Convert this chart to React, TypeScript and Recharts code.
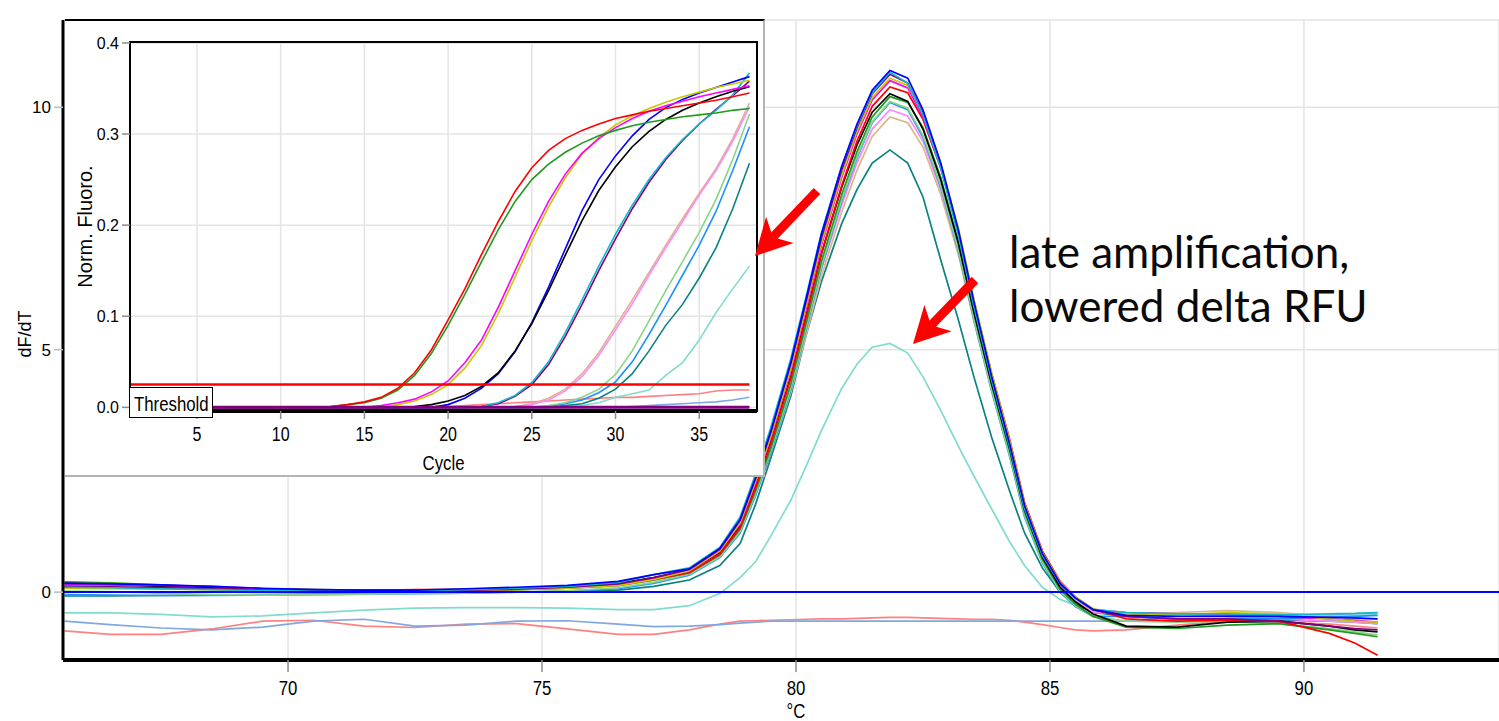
import React from 'react';
import { LineChart, Line, XAxis, YAxis, CartesianGrid, ReferenceLine, ReferenceArea } from 'recharts';

// ---------- Melt curve (main chart) ----------
const TEMPS = [65.6, 66.5, 67.5, 68.5, 69.5, 70.5, 71.5, 72.5, 73.5, 74.5, 75.5, 76.5, 77.2,
  77.9, 78.5, 78.9, 79.2, 79.5, 79.9, 80.2, 80.5, 80.9, 81.2, 81.5, 81.85, 82.2, 82.5, 82.85, 83.2,
  83.5, 83.85, 84.2, 84.5, 84.85, 85.2, 85.5, 85.85,
  86.5, 87.5, 88.5, 89.5, 90.5, 91.0, 91.45];

const MELT_CYAN = [0.1, 0.09, 0.07, 0.05, 0.03, 0.02, 0.02, 0.03, 0.05, 0.08, 0.12, 0.2, 0.36,
  0.5, 0.92, 1.55, 2.42, 3.38, 4.82, 6.1, 7.4, 8.78, 9.62, 10.3, 10.72, 10.5, 9.85, 8.75, 7.35, 5.9, 4.38, 3.02, 1.72, 0.76, 0.17, -0.13, -0.36,
  -0.42, -0.45, -0.45, -0.47, -0.45, -0.44, -0.42];
const MELT_BLUE = [0.18, 0.17, 0.15, 0.12, 0.08, 0.05, 0.04, 0.04, 0.07, 0.1, 0.14, 0.22, 0.36,
  0.48, 0.9, 1.5, 2.35, 3.3, 4.75, 6.05, 7.38, 8.78, 9.65, 10.35, 10.76, 10.6, 9.95, 8.85, 7.45, 6.0, 4.45, 3.08, 1.78, 0.8, 0.18, -0.12, -0.36,
  -0.48, -0.5, -0.5, -0.5, -0.52, -0.53, -0.55];
const MELT_PURPLE = [0.12, 0.11, 0.09, 0.07, 0.04, 0.02, 0.02, 0.02, 0.04, 0.06, 0.1, 0.17, 0.3,
  0.47, 0.88, 1.48, 2.33, 3.28, 4.72, 6.0, 7.3, 8.7, 9.58, 10.28, 10.68, 10.5, 9.88, 8.8, 7.42, 5.95, 4.42, 3.05, 1.75, 0.78, 0.16, -0.13, -0.37,
  -0.5, -0.55, -0.55, -0.6, -0.7, -0.75, -0.78];
const MELT_OLIVE = [0.08, 0.07, 0.06, 0.05, 0.03, 0.02, 0.01, 0.02, 0.03, 0.05, 0.08, 0.14, 0.26,
  0.44, 0.85, 1.43, 2.27, 3.2, 4.62, 5.9, 7.2, 8.6, 9.5, 10.2, 10.6, 10.45, 9.88, 8.85, 7.5, 6.05, 4.52, 3.15, 1.82, 0.82, 0.2, -0.1, -0.35,
  -0.45, -0.47, -0.42, -0.45, -0.55, -0.6, -0.62];
const MELT_MAGENTA = [0.16, 0.15, 0.14, 0.12, 0.07, 0.04, 0.04, 0.03, 0.04, 0.06, 0.1, 0.16, 0.28,
  0.44, 0.84, 1.41, 2.24, 3.17, 4.58, 5.85, 7.15, 8.55, 9.45, 10.15, 10.55, 10.4, 9.8, 8.75, 7.4, 5.97, 4.45, 3.1, 1.8, 0.8, 0.18, -0.12, -0.36,
  -0.42, -0.45, -0.47, -0.5, -0.55, -0.58, -0.62];
const MELT_RED = [0.1, 0.09, 0.08, 0.06, 0.04, 0.03, 0.03, 0.05, 0.05, 0.06, 0.09, 0.15, 0.26,
  0.4, 0.78, 1.33, 2.14, 3.05, 4.42, 5.68, 6.98, 8.38, 9.3, 10.02, 10.42, 10.3, 9.75, 8.75, 7.45, 6.02, 4.52, 3.18, 1.85, 0.85, 0.22, -0.1, -0.35,
  -0.55, -0.6, -0.58, -0.6, -0.85, -1.05, -1.3];
const MELT_BLACK = [0.18, 0.16, 0.12, 0.1, 0.07, 0.05, 0.04, 0.04, 0.05, 0.07, 0.11, 0.18, 0.3,
  0.44, 0.82, 1.37, 2.18, 3.08, 4.45, 5.7, 6.98, 8.35, 9.22, 9.9, 10.28, 10.12, 9.55, 8.5, 7.18, 5.78, 4.3, 2.98, 1.7, 0.72, 0.1, -0.2, -0.45,
  -0.7, -0.72, -0.62, -0.6, -0.7, -0.78, -0.82];
const MELT_GREEN = [0.21, 0.19, 0.15, 0.1, 0.05, 0.03, 0.02, 0.02, 0.03, 0.05, 0.08, 0.14, 0.25,
  0.4, 0.77, 1.3, 2.08, 2.96, 4.3, 5.55, 6.82, 8.2, 9.08, 9.8, 10.22, 10.1, 9.58, 8.55, 7.22, 5.8, 4.3, 2.95, 1.66, 0.68, 0.06, -0.25, -0.5,
  -0.72, -0.75, -0.68, -0.65, -0.78, -0.85, -0.92];
const MELT_LIGHTGREEN = [0.02, 0.01, -0.02, -0.05, -0.06, -0.05, -0.04, -0.03, -0.02, 0.0, 0.03, 0.09, 0.2,
  0.37, 0.73, 1.25, 2.02, 2.9, 4.22, 5.46, 6.72, 8.1, 8.98, 9.7, 10.12, 9.98, 9.42, 8.38, 7.05, 5.65, 4.18, 2.85, 1.58, 0.62, 0.02, -0.28, -0.5,
  -0.6, -0.62, -0.6, -0.65, -0.75, -0.82, -0.88];
const MELT_DODGER = [-0.05, -0.06, -0.07, -0.07, -0.06, -0.05, -0.04, -0.03, -0.02, 0.0, 0.02, 0.07, 0.18,
  0.35, 0.71, 1.22, 1.98, 2.86, 4.18, 5.42, 6.68, 8.06, 8.95, 9.68, 10.1, 9.95, 9.38, 8.35, 7.02, 5.62, 4.15, 2.82, 1.55, 0.6, 0.0, -0.3, -0.5,
  -0.5, -0.55, -0.55, -0.55, -0.52, -0.5, -0.48];
const MELT_PINK = [0.12, 0.11, 0.1, 0.08, 0.05, 0.03, 0.02, 0.02, 0.03, 0.05, 0.08, 0.14, 0.25,
  0.4, 0.76, 1.28, 2.05, 2.92, 4.22, 5.42, 6.66, 7.98, 8.85, 9.55, 9.95, 9.82, 9.3, 8.3, 7.02, 5.65, 4.2, 2.9, 1.65, 0.7, 0.1, -0.2, -0.42,
  -0.45, -0.45, -0.5, -0.55, -0.6, -0.62, -0.65];
const MELT_TAN = [0.13, 0.12, 0.1, 0.07, 0.05, 0.04, 0.03, 0.03, 0.04, 0.05, 0.08, 0.13, 0.24,
  0.39, 0.74, 1.24, 2.0, 2.85, 4.12, 5.3, 6.52, 7.84, 8.7, 9.4, 9.8, 9.68, 9.18, 8.2, 6.95, 5.6, 4.18, 2.9, 1.66, 0.72, 0.12, -0.18, -0.4,
  -0.45, -0.42, -0.38, -0.42, -0.5, -0.55, -0.55];
const MELT_DARKTEAL = [-0.08, -0.08, -0.07, -0.06, -0.05, -0.04, -0.03, -0.02, -0.01, 0.0, 0.01, 0.04, 0.12,
  0.25, 0.55, 1.0, 1.8, 2.75, 4.05, 5.3, 6.4, 7.6, 8.3, 8.85, 9.12, 8.85, 8.15, 6.85, 5.6, 4.45, 3.2, 2.1, 1.22, 0.5, 0.0, -0.25, -0.42,
  -0.5, -0.55, -0.55, -0.58, -0.6, -0.62, -0.65];
const MELT_AQUA = [-0.43, -0.43, -0.46, -0.51, -0.49, -0.43, -0.37, -0.33, -0.32, -0.32, -0.33, -0.36, -0.36,
  -0.28, -0.03, 0.3, 0.62, 1.15, 1.9, 2.6, 3.33, 4.2, 4.7, 5.05, 5.13, 4.93, 4.44, 3.75, 3.0, 2.4, 1.72, 1.05, 0.55, 0.1, -0.15, -0.27, -0.35,
  -0.42, -0.45, -0.5, -0.52, -0.5, -0.48, -0.46];
const MELT_SALMON = [-0.8, -0.87, -0.87, -0.76, -0.6, -0.58, -0.7, -0.73, -0.66, -0.65, -0.76, -0.87, -0.87,
  -0.78, -0.66, -0.6, -0.59, -0.58, -0.57, -0.56, -0.55, -0.55, -0.54, -0.53, -0.52, -0.52, -0.53, -0.54, -0.55, -0.56, -0.56, -0.58, -0.62, -0.67, -0.73, -0.78, -0.8,
  -0.78, -0.68, -0.6, -0.62, -0.66, -0.7, -0.74];
const MELT_CORNFLOWER = [-0.6, -0.67, -0.74, -0.78, -0.72, -0.6, -0.56, -0.7, -0.68, -0.6, -0.59, -0.66, -0.71,
  -0.7, -0.67, -0.64, -0.62, -0.6, -0.6, -0.6, -0.6, -0.6, -0.6, -0.6, -0.6, -0.6, -0.6, -0.6, -0.6, -0.6, -0.6, -0.6, -0.6, -0.6, -0.6, -0.6, -0.6,
  -0.6, -0.58, -0.55, -0.52, -0.48, -0.45, -0.43];

const MELT_SERIES = [
  { key: 'salmon', color: '#ff8080', values: MELT_SALMON },
  { key: 'cornflower', color: '#80a8e0', values: MELT_CORNFLOWER },
  { key: 'aqua', color: '#80dccc', values: MELT_AQUA },
  { key: 'darkteal', color: '#0a8282', values: MELT_DARKTEAL },
  { key: 'tan', color: '#d8b888', values: MELT_TAN },
  { key: 'pink', color: '#ff88ff', values: MELT_PINK },
  { key: 'dodger', color: '#1e90ff', values: MELT_DODGER },
  { key: 'lightgreen', color: '#88d488', values: MELT_LIGHTGREEN },
  { key: 'green', color: '#1f9a1f', values: MELT_GREEN },
  { key: 'black', color: '#000000', values: MELT_BLACK },
  { key: 'red', color: '#ff0000', values: MELT_RED },
  { key: 'magenta', color: '#ff00ff', values: MELT_MAGENTA },
  { key: 'olive', color: '#c8c800', values: MELT_OLIVE },
  { key: 'purple', color: '#800080', values: MELT_PURPLE },
  { key: 'cyan', color: '#12b8c8', values: MELT_CYAN },
  { key: 'blue', color: '#0000ff', values: MELT_BLUE },
];

const MELT_X_TICKS = [70, 75, 80, 85, 90];
const MELT_Y_TICKS = [0, 5, 10];

// ---------- Amplification (inset) ----------
const CYCLES = [1, 2, 3, 4, 5, 6, 7, 8, 9, 10, 11, 12, 13, 14, 15, 16, 17, 18, 19, 20,
  21, 22, 23, 24, 25, 26, 27, 28, 29, 30, 31, 32, 33, 34, 35, 36, 37, 38];

const AMP_RED = [0, 0, 0, 0, 0, 0, 0, 0, 0, 0, 0, 0,
  0.001, 0.003, 0.006, 0.011, 0.021, 0.038, 0.063, 0.096, 0.13, 0.168, 0.204, 0.237, 0.263, 0.282, 0.295, 0.304, 0.311, 0.317, 0.321, 0.325, 0.328, 0.331, 0.334, 0.337, 0.341, 0.345];
const AMP_GREEN = [0, 0, 0, 0, 0, 0, 0, 0, 0, 0, 0, 0,
  0.001, 0.003, 0.005, 0.01, 0.019, 0.035, 0.059, 0.09, 0.124, 0.16, 0.195, 0.226, 0.25, 0.267, 0.28, 0.29, 0.298, 0.304, 0.309, 0.313, 0.316, 0.319, 0.321, 0.323, 0.326, 0.328];
const AMP_MAGENTA = [0, 0, 0, 0, 0, 0, 0, 0, 0, 0, 0, 0, 0, 0, 0,
  0.002, 0.005, 0.009, 0.017, 0.029, 0.049, 0.074, 0.11, 0.15, 0.19, 0.226, 0.256, 0.279, 0.295, 0.307, 0.317, 0.325, 0.331, 0.336, 0.341, 0.345, 0.349, 0.353];
const AMP_OLIVE = [0, 0, 0, 0, 0, 0, 0, 0, 0, 0, 0, 0, 0, 0, 0, 0,
  0.003, 0.007, 0.014, 0.025, 0.043, 0.068, 0.103, 0.143, 0.183, 0.22, 0.252, 0.278, 0.296, 0.31, 0.32, 0.328, 0.335, 0.341, 0.346, 0.351, 0.355, 0.359];
const AMP_BLACK = [0, 0, 0, 0, 0, 0, 0, 0, 0, 0, 0, 0, 0, 0, 0, 0, 0,
  0.001, 0.003, 0.007, 0.013, 0.023, 0.038, 0.062, 0.092, 0.128, 0.167, 0.205, 0.238, 0.264, 0.286, 0.303, 0.316, 0.326, 0.334, 0.341, 0.347, 0.352];
const AMP_BLUE = [0, 0, 0, 0, 0, 0, 0, 0, 0, 0, 0, 0, 0, 0, 0, 0, 0, 0, 0,
  0.003, 0.01, 0.021, 0.037, 0.061, 0.093, 0.132, 0.174, 0.216, 0.25, 0.276, 0.298, 0.316, 0.329, 0.338, 0.345, 0.351, 0.357, 0.363];
const AMP_CYAN = [0, 0, 0, 0, 0, 0, 0, 0, 0, 0, 0, 0, 0, 0, 0, 0, 0, 0, 0, 0, 0,
  0.001, 0.005, 0.013, 0.027, 0.05, 0.082, 0.118, 0.155, 0.19, 0.222, 0.25, 0.274, 0.294, 0.311, 0.326, 0.343, 0.367];
const AMP_PURPLE = [0, 0, 0, 0, 0, 0, 0, 0, 0, 0, 0, 0, 0, 0, 0, 0, 0, 0, 0, 0, 0,
  0.001, 0.004, 0.012, 0.025, 0.047, 0.078, 0.113, 0.15, 0.185, 0.218, 0.247, 0.272, 0.293, 0.311, 0.327, 0.342, 0.358];
const AMP_TAN = [0, 0, 0, 0, 0, 0, 0, 0, 0, 0, 0, 0, 0, 0, 0, 0, 0, 0, 0, 0, 0, 0, 0,
  0.001, 0.004, 0.01, 0.02, 0.037, 0.06, 0.089, 0.118, 0.148, 0.178, 0.207, 0.235, 0.262, 0.295, 0.334];
const AMP_PINK = [0, 0, 0, 0, 0, 0, 0, 0, 0, 0, 0, 0, 0, 0, 0, 0, 0, 0, 0, 0, 0, 0, 0,
  0.001, 0.003, 0.008, 0.018, 0.034, 0.057, 0.085, 0.114, 0.145, 0.175, 0.204, 0.233, 0.26, 0.292, 0.33];
const AMP_LIGHTGREEN = [0, 0, 0, 0, 0, 0, 0, 0, 0, 0, 0, 0, 0, 0, 0, 0, 0, 0, 0, 0, 0, 0, 0, 0, 0,
  0.002, 0.005, 0.011, 0.02, 0.036, 0.062, 0.095, 0.128, 0.16, 0.192, 0.228, 0.272, 0.322];
const AMP_DODGER = [0, 0, 0, 0, 0, 0, 0, 0, 0, 0, 0, 0, 0, 0, 0, 0, 0, 0, 0, 0, 0, 0, 0, 0, 0,
  0.001, 0.004, 0.008, 0.016, 0.028, 0.05, 0.08, 0.112, 0.145, 0.178, 0.215, 0.26, 0.308];
const AMP_DARKTEAL = [0, 0, 0, 0, 0, 0, 0, 0, 0, 0, 0, 0, 0, 0, 0, 0, 0, 0, 0, 0, 0, 0, 0, 0, 0, 0,
  0.002, 0.004, 0.01, 0.02, 0.037, 0.062, 0.09, 0.113, 0.142, 0.175, 0.218, 0.268];
const AMP_AQUA = [0, 0, 0, 0, 0, 0, 0, 0, 0, 0, 0, 0, 0, 0, 0, 0, 0, 0, 0, 0, 0, 0, 0, 0, 0, 0,
  0.001, 0.002, 0.005, 0.011, 0.015, 0.019, 0.035, 0.049, 0.074, 0.104, 0.13, 0.155];
const AMP_SALMON = [0, 0, 0, 0, 0, 0, 0, 0, 0, 0, 0, 0, 0, 0, 0, 0, 0, 0, 0,
  0.001, 0.002, 0.003, 0.004, 0.005, 0.006, 0.007, 0.008, 0.009, 0.01, 0.011, 0.011, 0.012, 0.013, 0.014, 0.015, 0.018, 0.019, 0.019];
const AMP_CORNFLOWER = [0, 0, 0, 0, 0, 0, 0, 0, 0, 0, 0, 0, 0, 0, 0, 0, 0, 0, 0, 0, 0, 0, 0, 0, 0, 0, 0, 0, 0, 0,
  0.001, 0.002, 0.003, 0.004, 0.005, 0.006, 0.008, 0.011];
const AMP_NTC_PURPLE = [0, 0, 0, 0, 0, 0, 0, 0, 0, 0, 0, 0, 0, 0, 0, 0, 0, 0, 0, 0,
  0, 0, 0, 0, 0, 0, 0, 0, 0, 0, 0, 0, 0, 0, 0, 0, 0, 0];

const AMP_SERIES = [
  { key: 'salmon', color: '#ff8080', values: AMP_SALMON, w: 1.6 },
  { key: 'cornflower', color: '#80a8e0', values: AMP_CORNFLOWER, w: 1.6 },
  { key: 'aqua', color: '#80dccc', values: AMP_AQUA, w: 1.6 },
  { key: 'darkteal', color: '#0a8282', values: AMP_DARKTEAL, w: 1.6 },
  { key: 'dodger', color: '#1e90ff', values: AMP_DODGER, w: 1.6 },
  { key: 'lightgreen', color: '#88d488', values: AMP_LIGHTGREEN, w: 1.6 },
  { key: 'tan', color: '#d8b888', values: AMP_TAN, w: 1.6 },
  { key: 'pink', color: '#ff88ff', values: AMP_PINK, w: 1.6 },
  { key: 'purple', color: '#800080', values: AMP_PURPLE, w: 1.6 },
  { key: 'cyan', color: '#12b8c8', values: AMP_CYAN, w: 1.6 },
  { key: 'blue', color: '#0000ff', values: AMP_BLUE, w: 1.6 },
  { key: 'black', color: '#000000', values: AMP_BLACK, w: 1.6 },
  { key: 'olive', color: '#c8c800', values: AMP_OLIVE, w: 1.6 },
  { key: 'magenta', color: '#ff00ff', values: AMP_MAGENTA, w: 1.6 },
  { key: 'green', color: '#1f9a1f', values: AMP_GREEN, w: 1.6 },
  { key: 'red', color: '#ff0000', values: AMP_RED, w: 1.6 },
  { key: 'ntc', color: '#800080', values: AMP_NTC_PURPLE, w: 3 },
];

const AMP_X_TICKS = [5, 10, 15, 20, 25, 30, 35];
const AMP_Y_TICKS = [0, 0.1, 0.2, 0.3, 0.4];
const THRESHOLD = 0.025;

const meltData = TEMPS.map((t, i) => {
  const row: Record<string, number> = { t };
  MELT_SERIES.forEach((s) => { row[s.key] = s.values[i]; });
  return row;
});
const ampData = CYCLES.map((c, i) => {
  const row: Record<string, number> = { c };
  AMP_SERIES.forEach((s) => { row[s.key] = s.values[i]; });
  return row;
});

const SANS = "'Liberation Sans', Arial, sans-serif";
const SQUEEZE = 0.8;

// condensed text (Arial-Narrow look) made by squeezing Liberation Sans horizontally
const NarrowText = ({ x, y, size, anchor = 'middle', children }: any) => (
  <g transform={`translate(${x},${y}) scale(${SQUEEZE},1)`}>
    <text x={0} y={0} textAnchor={anchor} fontFamily={SANS} fontSize={size} fill="#000">{children}</text>
  </g>
);

const MainXTick = (props: any) => {
  const { x, y, payload } = props;
  return <NarrowText x={x} y={y + 15} size={21}>{payload.value}</NarrowText>;
};
const AmpXTick = (props: any) => {
  const { x, y, payload } = props;
  return <NarrowText x={x} y={y + 14} size={20}>{payload.value}</NarrowText>;
};

const MainXLabel = (props: any) => {
  const vb = props.viewBox || { x: 0, y: 0, width: 0, height: 0 };
  return <NarrowText x={vb.x + vb.width / 2 + 15} y={vb.y + 58} size={21}>°C</NarrowText>;
};
const MainYLabel = (props: any) => {
  const vb = props.viewBox || { x: 0, y: 0, width: 0, height: 0 };
  const x = vb.x + 25;
  const y = vb.y + vb.height / 2 - 6;
  return (
    <text x={x} y={y} transform={`rotate(-90, ${x}, ${y})`} textAnchor="middle" dominantBaseline="central" fontFamily={SANS} fontSize={18} fill="#000">dF/dT</text>
  );
};
const CycleLabel = (props: any) => {
  const vb = props.viewBox || { x: 0, y: 0, width: 0, height: 0 };
  return <NarrowText x={vb.x + vb.width / 2} y={vb.y + 59} size={21}>Cycle</NarrowText>;
};
const NormLabel = (props: any) => {
  const vb = props.viewBox || { x: 0, y: 0, width: 0, height: 0 };
  const x = vb.x + 20;
  const y = vb.y + vb.height / 2;
  return (
    <text x={x} y={y} transform={`rotate(-90, ${x}, ${y})`} textAnchor="middle" dominantBaseline="central" fontFamily={SANS} fontSize={20} fill="#000">Norm. Fluoro.</text>
  );
};

const Arrow = ({ tail, tip }: { tail: [number, number]; tip: [number, number] }) => {
  const dx = tip[0] - tail[0];
  const dy = tip[1] - tail[1];
  const len = Math.hypot(dx, dy);
  const ux = dx / len;
  const uy = dy / len;
  const bx = -ux;
  const by = -uy;
  const px = -uy;
  const py = ux;
  const back = 36;
  const half = 19;
  const a = [tip[0] + bx * back + px * half, tip[1] + by * back + py * half];
  const b = [tip[0] + bx * back - px * half, tip[1] + by * back - py * half];
  const n = [tip[0] + bx * 26, tip[1] + by * 26];
  return (
    <g>
      <line x1={tail[0]} y1={tail[1]} x2={n[0]} y2={n[1]} stroke="#ff0000" strokeWidth={9} />
      <polygon points={`${tip[0]},${tip[1]} ${a[0]},${a[1]} ${n[0]},${n[1]} ${b[0]},${b[1]}`} fill="#ff0000" />
    </g>
  );
};

export default function App() {
  return (
    <div style={{ position: 'absolute', left: 0, top: 0, width: 1499, height: 721, background: '#fff', overflow: 'hidden' }}>
      <div style={{ position: 'absolute', left: 0, top: 0 }}>
        <LineChart width={1499} height={721} data={meltData} margin={{ top: 20, right: 0, bottom: 0, left: 0 }}>
          <CartesianGrid stroke="#e4e4e4" strokeWidth={1.5} />
          <XAxis type="number" dataKey="t" domain={[65.57, 93.84]} allowDataOverflow ticks={MELT_X_TICKS}
            height={61} axisLine={{ stroke: '#000', strokeWidth: 4 }} tickLine={{ stroke: '#8c8c8c', strokeWidth: 1.5 }}
            tickSize={12} tickMargin={8} tick={<MainXTick />} label={<MainXLabel />} />
          <YAxis type="number" domain={[-1.4, 11.8]} allowDataOverflow ticks={MELT_Y_TICKS} width={63}
            axisLine={{ stroke: '#000', strokeWidth: 3 }} tickLine={{ stroke: '#bdbdbd', strokeWidth: 1.5 }}
            tickSize={9} tickMargin={3} tick={{ fontFamily: SANS, fontSize: 17, fill: '#000' }} label={<MainYLabel />} />
          {MELT_SERIES.map((s) => (
            <Line key={s.key} type="linear" dataKey={s.key} stroke={s.color} strokeWidth={1.7} dot={false} isAnimationActive={false} />
          ))}
          <ReferenceLine y={0} stroke="#0000ff" strokeWidth={2} />
        </LineChart>
      </div>

      <div style={{ position: 'absolute', left: 65, top: 19, width: 700, height: 458, boxSizing: 'border-box', background: '#fff',
        borderTop: '2px solid #000', borderRight: '2px solid #b4b4b4', borderBottom: '2px solid #b4b4b4' }}>
        <LineChart width={698} height={454} data={ampData} margin={{ top: 21, right: 6, bottom: 0, left: 0 }}>
          <CartesianGrid stroke="#e4e4e4" strokeWidth={1.5} />
          <XAxis type="number" dataKey="c" domain={[1, 38.45]} allowDataOverflow ticks={AMP_X_TICKS} height={64}
            axisLine={{ stroke: '#000', strokeWidth: 4 }} tickLine={{ stroke: '#8c8c8c', strokeWidth: 1.5 }}
            tickSize={8} tickMargin={8} tick={<AmpXTick />} label={<CycleLabel />} />
          <YAxis type="number" domain={[-0.004, 0.401]} allowDataOverflow ticks={AMP_Y_TICKS} width={65}
            tickFormatter={(v: number) => v.toFixed(1)}
            axisLine={{ stroke: '#000', strokeWidth: 2 }} tickLine={{ stroke: '#8c8c8c', strokeWidth: 1.5 }}
            tickSize={8} tickMargin={3} tick={{ fontFamily: SANS, fontSize: 16, fill: '#000' }} label={<NormLabel />} />
          {AMP_SERIES.map((s) => (
            <Line key={s.key} type="linear" dataKey={s.key} stroke={s.color} strokeWidth={s.w} dot={false} isAnimationActive={false} />
          ))}
          <ReferenceArea x1={1} x2={38.45} y1={-0.004} y2={0.401} fill="none" fillOpacity={0} stroke="#000" strokeWidth={2} />
          <ReferenceLine segment={[{ x: 1, y: THRESHOLD }, { x: 38, y: THRESHOLD }]} stroke="#ff0000" strokeWidth={2.5} />
        </LineChart>
      </div>

      <svg width={1499} height={721} style={{ position: 'absolute', left: 0, top: 0, pointerEvents: 'none' }}>
        <rect x={129.5} y={387.5} width={83} height={30} fill="#fff" stroke="#000" strokeWidth={1} />
        <NarrowText x={134} y={411} size={21} anchor="start">Threshold</NarrowText>
        <text x={1009} y={268} fontFamily="Lato, 'Open Sans', sans-serif" fontSize={44} fill="#0a0a0a">late amplification,</text>
        <text x={1009} y={322} fontFamily="Lato, 'Open Sans', sans-serif" fontSize={44} fill="#0a0a0a">lowered delta RFU</text>
        <Arrow tail={[817, 191]} tip={[755, 256]} />
        <Arrow tail={[975, 280]} tip={[913, 344]} />
      </svg>
    </div>
  );
}
